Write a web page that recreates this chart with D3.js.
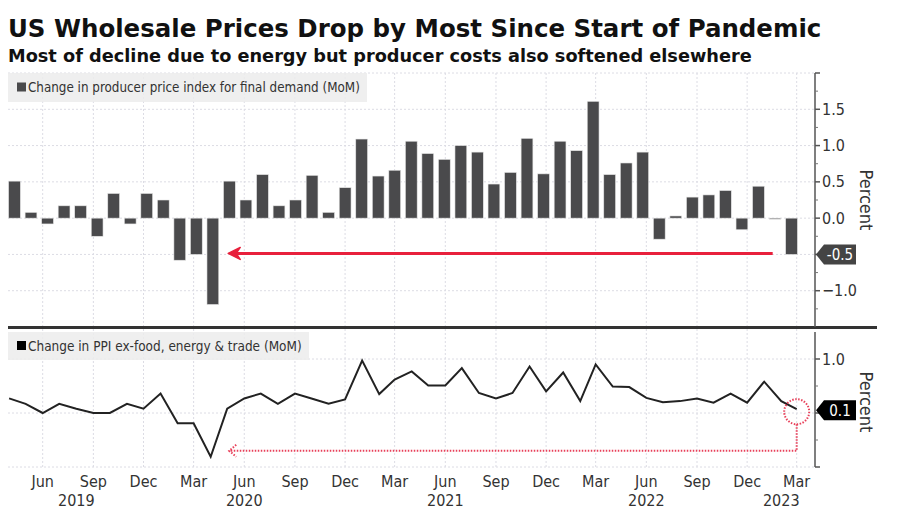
<!DOCTYPE html>
<html>
<head>
<meta charset="utf-8">
<script src="https://cdn.jsdelivr.net/npm/d3@7"></script>
<style>
  html, body { margin: 0; padding: 0; background: #fff; }
  svg { display: block; }
</style>
</head>
<body>
<svg id="chart" width="900" height="510"></svg>
<script>
// ---------------- DATA ----------------
const titleText = "US Wholesale Prices Drop by Most Since Start of Pandemic";
const subtitleText = "Most of decline due to energy but producer costs also softened elsewhere";
const legendTop = "Change in producer price index for final demand (MoM)";
const legendBottom = "Change in PPI ex-food, energy & trade (MoM)";
const axisTitle = "Percent";

const firstMonth = new Date(2019, 3, 1);   // Apr 2019
const lastMonth = new Date(2023, 2, 1);    // Mar 2023
const months = d3.timeMonth.range(firstMonth, d3.timeMonth.offset(lastMonth, 1));

// PPI final demand, MoM % (bars)
const ppiFinalDemand = [
  0.51, 0.08, -0.08, 0.17, 0.17, -0.25, 0.34, -0.08, 0.34, 0.25, -0.58, -0.50,
  -1.19, 0.51, 0.25, 0.60, 0.17, 0.25, 0.59, 0.08, 0.42, 1.09, 0.58, 0.66,
  1.06, 0.89, 0.81, 1.00, 0.91, 0.47, 0.63, 1.10, 0.61, 1.06, 0.93, 1.61,
  0.60, 0.76, 0.91, -0.29, 0.03, 0.29, 0.32, 0.38, -0.16, 0.44, 0.00, -0.50
];
// PPI ex-food, energy & trade, MoM % (line)
const ppiCore = [
  0.27, 0.17, 0.00, 0.17, 0.08, 0.00, 0.00, 0.17, 0.08, 0.36, -0.19, -0.19,
  -0.81, 0.08, 0.27, 0.36, 0.17, 0.36, 0.27, 0.17, 0.25, 0.97, 0.35, 0.62,
  0.77, 0.51, 0.51, 0.83, 0.37, 0.27, 0.37, 0.86, 0.40, 0.75, 0.22, 0.90,
  0.49, 0.48, 0.28, 0.20, 0.22, 0.27, 0.19, 0.36, 0.19, 0.58, 0.22, 0.07
];

const xTickDates = d3.timeMonth.range(new Date(2019, 5, 1), d3.timeMonth.offset(lastMonth, 1), 3);
const monthNames = ["Jan","Feb","Mar","Apr","May","Jun","Jul","Aug","Sep","Oct","Nov","Dec"];
const yearLabels = ["2019", "2020", "2021", "2022", "2023"];
const yearLabelDates = [new Date(2019, 7, 1), new Date(2020, 5, 1), new Date(2021, 5, 1), new Date(2022, 5, 1), new Date(2023, 1, 1)];

const topTicks = [-1.0, 0.0, 0.5, 1.0, 1.5];
const topGrid = [-1.0, -0.5, 0.0, 0.5, 1.0, 1.5, 2.0];
const bottomTicks = [1.0];
const bottomGrid = [-1.0, 0.0, 1.0];

const topValueLabel = "-0.5";
const bottomValueLabel = "0.1";

// ---------------- LAYOUT ----------------
const svg = d3.select("#chart");
const FONT = "'DejaVu Sans Condensed', 'DejaVu Sans', Verdana, sans-serif";
const TITLE_FONT = "'DejaVu Sans', Verdana, sans-serif";
const plotLeft = 8, axisX = 815;
const topPanel = { top: 73, bottom: 327 };
const botPanel = { top: 332, bottom: 467 };

const xTime = d3.scaleTime()
  .domain([new Date(2019, 5, 1), new Date(2023, 2, 1)])
  .range([42.7, 796.7]);

const xBand = d3.scaleBand()
  .domain(months.map(d => +d))
  .range([6.2, 799.8])
  .paddingInner(0.286)
  .paddingOuter(0.143);

const yTop = d3.scaleLinear().domain([-1.5, 2.0]).range([topPanel.bottom, topPanel.top]);
const yBot = d3.scaleLinear().domain([-1.0, 1.5]).range([botPanel.bottom, botPanel.top]);

function fitWidth(sel, target) {
  const w = sel.node().getComputedTextLength();
  const fs = parseFloat(sel.attr("font-size"));
  sel.attr("font-size", fs * target / w);
}

// ---------------- TITLES ----------------
const title = svg.append("text").attr("x", 8).attr("y", 37)
  .attr("font-family", TITLE_FONT).attr("font-weight", "bold")
  .attr("font-size", 26).attr("fill", "#111").text(titleText);
fitWidth(title, 814);

const subtitle = svg.append("text").attr("x", 8).attr("y", 62)
  .attr("font-family", TITLE_FONT).attr("font-weight", "bold")
  .attr("font-size", 20).attr("fill", "#111").text(subtitleText);
fitWidth(subtitle, 744);

// ---------------- GRID ----------------
const grid = svg.append("g").attr("stroke", "#dcdce4").attr("stroke-dasharray", "2,2").attr("stroke-width", 1);
grid.selectAll("line.v").data(xTickDates).join("line")
  .attr("x1", d => xTime(d)).attr("x2", d => xTime(d))
  .attr("y1", topPanel.top).attr("y2", botPanel.bottom);
grid.append("g").selectAll("line").data(topGrid).join("line")
  .attr("x1", plotLeft).attr("x2", axisX)
  .attr("y1", d => yTop(d)).attr("y2", d => yTop(d));
grid.append("g").selectAll("line").data(bottomGrid).join("line")
  .attr("x1", plotLeft).attr("x2", axisX)
  .attr("y1", d => yBot(d)).attr("y2", d => yBot(d));

// ---------------- LEGENDS ----------------
function legend(y0, h, text, color, target) {
  const g = svg.append("g");
  const rect = g.append("rect").attr("x", 8).attr("y", y0).attr("height", h)
    .attr("fill", "#ececec").attr("fill-opacity", 0.85);
  g.append("rect").attr("x", 17).attr("y", y0 + h / 2 - 5).attr("width", 9).attr("height", 9).attr("fill", color);
  const t = g.append("text").attr("x", 28).attr("y", y0 + h / 2 + 4.5)
    .attr("font-family", FONT).attr("font-size", 13).attr("fill", "#333").text(text);
  fitWidth(t, target);
  rect.attr("width", 28 + target + 7 - 8);
}
legend(73, 29, legendTop, "#4a4a4c", 332);
legend(332, 28, legendBottom, "#000", 274);

// ---------------- BARS ----------------
svg.append("g").selectAll("rect").data(months).join("rect")
  .attr("x", d => xBand(+d))
  .attr("width", xBand.bandwidth())
  .attr("y", (d, i) => Math.min(yTop(ppiFinalDemand[i]), yTop(0)))
  .attr("height", (d, i) => Math.max(1, Math.abs(yTop(ppiFinalDemand[i]) - yTop(0))))
  .attr("fill", "#4a4a4c")
  .attr("stroke", "#e6e6e6").attr("stroke-width", 0.6);

// ---------------- LINE ----------------
const line = d3.line().x((d, i) => xTime(months[i])).y(d => yBot(d));
svg.append("path").datum(ppiCore).attr("d", line)
  .attr("fill", "none").attr("stroke", "#222").attr("stroke-width", 2).attr("stroke-linejoin", "miter");

// ---------------- SEPARATOR ----------------
svg.append("line").attr("x1", 8).attr("x2", 877).attr("y1", 327.5).attr("y2", 327.5)
  .attr("stroke", "#333").attr("stroke-width", 3);

// ---------------- AXES (right) ----------------
function rightAxis(scale, y0, y1, major, minor, labels) {
  const g = svg.append("g");
  g.append("line").attr("x1", axisX).attr("x2", axisX).attr("y1", y0).attr("y2", y1)
    .attr("stroke", "#555").attr("stroke-width", 1.5);
  g.append("g").selectAll("line").data(major).join("line")
    .attr("x1", axisX).attr("x2", axisX + 5)
    .attr("y1", d => scale(d)).attr("y2", d => scale(d))
    .attr("stroke", "#555").attr("stroke-width", 1.5);
  g.append("g").selectAll("line").data(minor).join("line")
    .attr("x1", axisX).attr("x2", axisX + 3)
    .attr("y1", d => scale(d)).attr("y2", d => scale(d))
    .attr("stroke", "#777").attr("stroke-width", 1);
  g.append("g").selectAll("text").data(labels).join("text")
    .attr("x", axisX + 7).attr("y", d => scale(d) + 5.5)
    .attr("font-family", FONT).attr("font-size", 16).attr("fill", "#333")
    .text(d => d3.format(".1f")(d));
}
rightAxis(yTop, topPanel.top, topPanel.bottom, topGrid,
  d3.range(-1.25, 2.0, 0.5), topTicks);
rightAxis(yBot, botPanel.top, botPanel.bottom, [-1.0, 0.0, 1.0], [-0.5, 0.5], bottomTicks);

function axisTitleText(cy) {
  svg.append("text").attr("transform", `translate(860,${cy}) rotate(90)`)
    .attr("text-anchor", "middle").attr("font-family", FONT).attr("font-size", 18)
    .attr("fill", "#333").text(axisTitle);
}
axisTitleText(200);
axisTitleText(402);

// value labels
function valueTag(cy, text, fill) {
  const g = svg.append("g");
  g.append("path")
    .attr("d", `M${axisX + 1},${cy} L${axisX + 9},${cy - 10} L${axisX + 41},${cy - 10} L${axisX + 41},${cy + 10} L${axisX + 9},${cy + 10} Z`)
    .attr("fill", fill);
  g.append("text").attr("x", axisX + 25).attr("y", cy + 5.5).attr("text-anchor", "middle")
    .attr("font-family", FONT).attr("font-size", 15).attr("fill", "#fff").text(text);
}
valueTag(yTop(ppiFinalDemand[ppiFinalDemand.length - 1]), topValueLabel, "#444");
valueTag(yBot(ppiCore[ppiCore.length - 1]) + 1, bottomValueLabel, "#000");

// ---------------- X AXIS LABELS ----------------
svg.append("g").selectAll("text").data(xTickDates).join("text")
  .attr("x", d => xTime(d)).attr("y", 487).attr("text-anchor", "middle")
  .attr("font-family", FONT).attr("font-size", 16).attr("fill", "#333")
  .text(d => monthNames[d.getMonth()]);
svg.append("g").selectAll("text").data(yearLabels).join("text")
  .attr("x", (d, i) => xTime(yearLabelDates[i])).attr("y", 506).attr("text-anchor", "middle")
  .attr("font-family", FONT).attr("font-size", 16).attr("fill", "#333")
  .text(d => d);

// ---------------- ANNOTATIONS ----------------
const RED = "#e8203c";
// top solid arrow
const arrowY = yTop(-0.5) - 1;
const arrowX0 = xTime(new Date(2020, 4, 1)) + 1;
const arrowX1 = xTime(lastMonth) - 24;
svg.append("line").attr("x1", arrowX0 + 6).attr("x2", arrowX1).attr("y1", arrowY).attr("y2", arrowY)
  .attr("stroke", RED).attr("stroke-width", 3);
svg.append("path")
  .attr("d", `M${arrowX0},${arrowY} L${arrowX0 + 12},${arrowY - 6} L${arrowX0 + 8},${arrowY} L${arrowX0 + 12},${arrowY + 6} Z`)
  .attr("fill", RED).attr("stroke", RED).attr("stroke-width", 1.5).attr("stroke-linejoin", "round");

// bottom dotted annotation
const cx = xTime(lastMonth), cyc = yBot(ppiCore[ppiCore.length - 1]) + 2.5;
const dotted = svg.append("g").attr("fill", "none").attr("stroke", "#e8405a")
  .attr("stroke-width", 2).attr("stroke-dasharray", "1.5,1.5");
dotted.append("circle").attr("cx", cx).attr("cy", cyc).attr("r", 12.5);
const dy = yBot(-0.7);
const dx0 = xTime(new Date(2020, 4, 1)) + 2;
dotted.append("path").attr("d", `M${cx},${cyc + 12.5} L${cx},${dy} L${dx0},${dy}`);
dotted.append("path").attr("d", `M${dx0 + 7},${dy - 6} L${dx0},${dy} L${dx0 + 7},${dy + 6}`);
</script>
</body>
</html>
